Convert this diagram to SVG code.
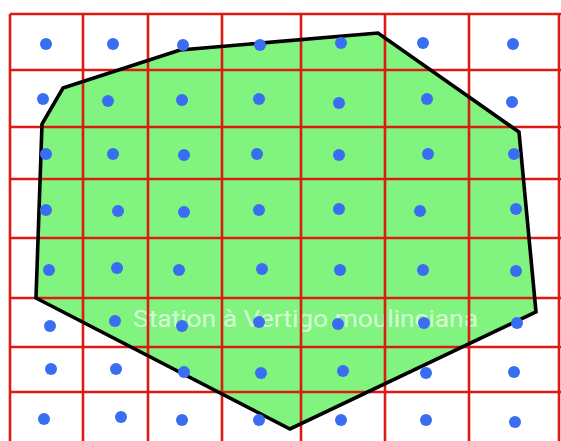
<svg xmlns="http://www.w3.org/2000/svg" width="561" height="441" viewBox="0 0 561 441">
<style>
.grid line{stroke:#dd1a14;stroke-width:2.6}
.dot{fill:#3a6ef2}
.lbl{font-family:Roboto,"Liberation Sans",sans-serif;font-size:24px;fill:#ffffff;fill-opacity:0.7}
</style>
<rect x="0" y="0" width="561" height="441" fill="#ffffff"/>
<g id="region">
<polygon points="63,88 180,50 378,33 519,132 536,312 290,429 36,298 42,124" fill="#80f47e"/>
</g>
<g id="label">
<text class="lbl" x="133" y="327" textLength="345" lengthAdjust="spacingAndGlyphs">Station à Vertigo moulinciana</text>
</g>
<g id="grid" class="grid">
<line x1="10" y1="14" x2="10" y2="441"/>
<line x1="83" y1="14" x2="83" y2="441"/>
<line x1="148" y1="14" x2="148" y2="441"/>
<line x1="222" y1="14" x2="222" y2="441"/>
<line x1="301" y1="14" x2="301" y2="441"/>
<line x1="385" y1="14" x2="385" y2="441"/>
<line x1="469" y1="14" x2="469" y2="441"/>
<line x1="559" y1="14" x2="559" y2="441"/>
<line x1="10" y1="14" x2="561" y2="14"/>
<line x1="10" y1="70" x2="561" y2="70"/>
<line x1="10" y1="127" x2="561" y2="127"/>
<line x1="10" y1="179" x2="561" y2="179"/>
<line x1="10" y1="238" x2="561" y2="238"/>
<line x1="10" y1="298" x2="561" y2="298"/>
<line x1="10" y1="347" x2="561" y2="347"/>
<line x1="10" y1="392" x2="561" y2="392"/>
</g>
<g id="boundary">
<polygon points="63,88 180,50 378,33 519,132 536,312 290,429 36,298 42,124" fill="none" stroke="#000000" stroke-width="3.6" stroke-linejoin="miter"/>
</g>
<g id="points">
<circle class="dot" cx="46" cy="44" r="6"/>
<circle class="dot" cx="113" cy="44" r="6"/>
<circle class="dot" cx="183" cy="45" r="6"/>
<circle class="dot" cx="260" cy="45" r="6"/>
<circle class="dot" cx="341" cy="43" r="6"/>
<circle class="dot" cx="423" cy="43" r="6"/>
<circle class="dot" cx="513" cy="44" r="6"/>
<circle class="dot" cx="43" cy="99" r="6"/>
<circle class="dot" cx="108" cy="101" r="6"/>
<circle class="dot" cx="182" cy="100" r="6"/>
<circle class="dot" cx="259" cy="99" r="6"/>
<circle class="dot" cx="339" cy="103" r="6"/>
<circle class="dot" cx="427" cy="99" r="6"/>
<circle class="dot" cx="512" cy="102" r="6"/>
<circle class="dot" cx="46" cy="154" r="6"/>
<circle class="dot" cx="113" cy="154" r="6"/>
<circle class="dot" cx="184" cy="155" r="6"/>
<circle class="dot" cx="257" cy="154" r="6"/>
<circle class="dot" cx="339" cy="155" r="6"/>
<circle class="dot" cx="428" cy="154" r="6"/>
<circle class="dot" cx="514" cy="154" r="6"/>
<circle class="dot" cx="46" cy="210" r="6"/>
<circle class="dot" cx="118" cy="211" r="6"/>
<circle class="dot" cx="184" cy="212" r="6"/>
<circle class="dot" cx="259" cy="210" r="6"/>
<circle class="dot" cx="339" cy="209" r="6"/>
<circle class="dot" cx="420" cy="211" r="6"/>
<circle class="dot" cx="516" cy="209" r="6"/>
<circle class="dot" cx="49" cy="270" r="6"/>
<circle class="dot" cx="117" cy="268" r="6"/>
<circle class="dot" cx="179" cy="270" r="6"/>
<circle class="dot" cx="262" cy="269" r="6"/>
<circle class="dot" cx="340" cy="270" r="6"/>
<circle class="dot" cx="423" cy="270" r="6"/>
<circle class="dot" cx="516" cy="271" r="6"/>
<circle class="dot" cx="50" cy="326" r="6"/>
<circle class="dot" cx="115" cy="321" r="6"/>
<circle class="dot" cx="182" cy="326" r="6"/>
<circle class="dot" cx="259" cy="322" r="6"/>
<circle class="dot" cx="338" cy="324" r="6"/>
<circle class="dot" cx="424" cy="323" r="6"/>
<circle class="dot" cx="517" cy="323" r="6"/>
<circle class="dot" cx="51" cy="369" r="6"/>
<circle class="dot" cx="116" cy="369" r="6"/>
<circle class="dot" cx="184" cy="372" r="6"/>
<circle class="dot" cx="261" cy="373" r="6"/>
<circle class="dot" cx="343" cy="371" r="6"/>
<circle class="dot" cx="426" cy="373" r="6"/>
<circle class="dot" cx="514" cy="372" r="6"/>
<circle class="dot" cx="44" cy="419" r="6"/>
<circle class="dot" cx="121" cy="417" r="6"/>
<circle class="dot" cx="182" cy="420" r="6"/>
<circle class="dot" cx="259" cy="420" r="6"/>
<circle class="dot" cx="341" cy="420" r="6"/>
<circle class="dot" cx="426" cy="420" r="6"/>
<circle class="dot" cx="515" cy="422" r="6"/>
</g>
</svg>
